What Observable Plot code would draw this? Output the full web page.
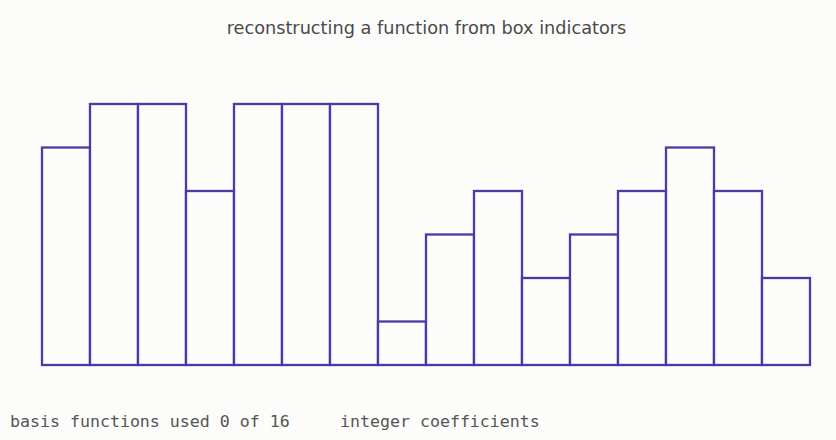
<!DOCTYPE html>
<html><head><meta charset="utf-8">
<script src="https://cdn.jsdelivr.net/npm/d3@7"></script>
<script src="https://cdn.jsdelivr.net/npm/@observablehq/plot@0.6"></script>
<style>
html,body{margin:0;padding:0;background:#fcfcfa;}
#wrap{position:relative;width:836px;height:440px;overflow:hidden;}
#title{position:absolute;left:0;top:18px;width:853px;text-align:center;font-family:"DejaVu Sans";font-size:17.7px;color:#4a4a4a;}
#chart{position:absolute;left:0;top:51px;}
.foot{position:absolute;top:412px;font-family:"DejaVu Sans Mono";font-size:16.6px;color:#555;white-space:pre;}
</style></head>
<body>
<div id="wrap">
<div id="title">reconstructing a function from box indicators</div>
<div id="chart"></div>
<div class="foot" id="f1" style="left:10px">basis functions used 0 of 16</div>
<div class="foot" id="f2" style="left:340px">integer coefficients</div>
</div>
<script>
const boxIndex = d3.range(16);
const boxValues = [5,6,6,4,6,6,6,1,3,4,2,3,4,5,4,2];
const data = boxIndex.map(i => ({i, v: boxValues[i]}));
const chart = Plot.plot({
  width: 836,
  height: 345,
  marginLeft: 42,
  marginRight: 26,
  marginTop: 53,
  marginBottom: 31,
  style: {background: "transparent", overflow: "visible"},
  x: {domain: [0, 16], axis: null},
  y: {domain: [0, 6], axis: null},
  marks: [
    Plot.rectY(data, {x1: d => d.i, x2: d => d.i + 1, y: "v", fill: "#fcfcfa", stroke: "#4b3aa6", strokeWidth: 2.3, inset: 0})
  ]
});
document.getElementById("chart").appendChild(chart);
</script>
</body></html>
